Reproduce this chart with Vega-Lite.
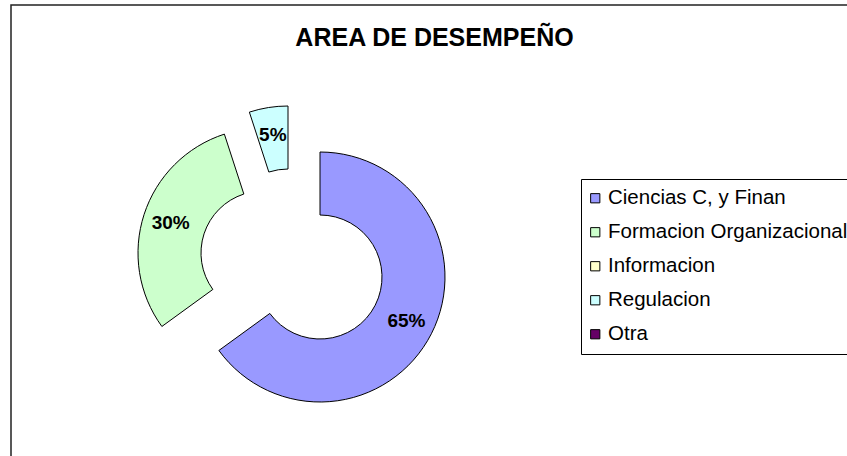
{
  "$schema": "https://vega.github.io/schema/vega-lite/v6.json",
  "width": 847,
  "height": 461,
  "autosize": {"type": "none"},
  "padding": {"left": 11, "top": 5, "right": 0, "bottom": 0},
  "background": "white",
  "view": {"stroke": "#222222", "strokeWidth": 1.5, "fill": "white"},
  "config": {
    "font": "Liberation Sans"
  },
  "title": {
    "text": "AREA DE DESEMPEÑO",
    "font": "Liberation Sans",
    "fontSize": 25,
    "fontWeight": "bold",
    "color": "black",
    "anchor": "middle",
    "frame": "group",
    "baseline": "alphabetic",
    "offset": 0,
    "dy": 66
  },
  "data": {
    "values": [
      {"cat": "Ciencias C, y Finan", "pct": 0.65, "orden": 1},
      {"cat": "Formacion Organizacional", "pct": 0.30, "orden": 2},
      {"cat": "Informacion", "pct": 0, "orden": 3},
      {"cat": "Regulacion", "pct": 0.05, "orden": 4},
      {"cat": "Otra", "pct": 0, "orden": 5}
    ]
  },
  "layer": [
    {
      "mark": {"type": "arc", "innerRadius": 62, "outerRadius": 125, "stroke": "black", "strokeWidth": 1, "xOffset": -114.5, "yOffset": 41.5},
      "encoding": {
        "theta": {"field": "pct", "type": "quantitative", "stack": true},
        "order": {"field": "orden", "type": "quantitative"},
        "color": {
          "field": "cat", "type": "nominal",
          "scale": {
            "domain": ["Ciencias C, y Finan", "Formacion Organizacional", "Informacion", "Regulacion", "Otra"],
            "range": ["#9999FF", "#CCFFCC", "#FFFFCC", "#CCFFFF", "#660066"]
          },
          "legend": {
            "title": null,
            "orient": "none",
            "legendX": 570,
            "legendY": 174,
            "padding": 9,
            "strokeColor": "black",
            "fillColor": "white",
            "cornerRadius": 0,
            "symbolType": "square",
            "symbolSize": 85,
            "symbolOffset": -5,
            "symbolStrokeColor": "black",
            "symbolStrokeWidth": 1,
            "symbolOpacity": 1,
            "labelFont": "Liberation Sans",
            "labelFontSize": 20.5,
            "labelColor": "black",
            "labelOffset": 2.5,
            "labelLimit": 400,
            "rowPadding": 13
          }
        },
        "opacity": {"condition": {"test": "datum.cat === 'Ciencias C, y Finan'", "value": 1}, "value": 0}
      }
    },
    {
      "mark": {"type": "arc", "innerRadius": 62, "outerRadius": 125, "stroke": "black", "strokeWidth": 1, "xOffset": -171.5, "yOffset": 17.5},
      "encoding": {
        "theta": {"field": "pct", "type": "quantitative", "stack": true},
        "order": {"field": "orden", "type": "quantitative"},
        "color": {"field": "cat", "type": "nominal"},
        "opacity": {"condition": {"test": "datum.cat === 'Formacion Organizacional'", "value": 1}, "value": 0}
      }
    },
    {
      "mark": {"type": "arc", "innerRadius": 62, "outerRadius": 125, "stroke": "black", "strokeWidth": 1, "xOffset": -146.5, "yOffset": -4.5},
      "encoding": {
        "theta": {"field": "pct", "type": "quantitative", "stack": true},
        "order": {"field": "orden", "type": "quantitative"},
        "color": {"field": "cat", "type": "nominal"},
        "opacity": {"condition": {"test": "datum.cat === 'Regulacion'", "value": 1}, "value": 0}
      }
    },
    {
      "mark": {"type": "text", "radius": 97, "fontSize": 19, "fontWeight": "bold", "font": "Liberation Sans", "fill": "black", "align": "center", "baseline": "middle", "xOffset": -114.5, "yOffset": 41.5},
      "encoding": {
        "theta": {"field": "pct", "type": "quantitative", "stack": true},
        "order": {"field": "orden", "type": "quantitative"},
        "text": {"field": "pct", "type": "quantitative", "format": ".0%"},
        "opacity": {"condition": {"test": "datum.cat === 'Ciencias C, y Finan'", "value": 1}, "value": 0}
      }
    },
    {
      "mark": {"type": "text", "radius": 97, "fontSize": 19, "fontWeight": "bold", "font": "Liberation Sans", "fill": "black", "align": "center", "baseline": "middle", "xOffset": -171.5, "yOffset": 17.5},
      "encoding": {
        "theta": {"field": "pct", "type": "quantitative", "stack": true},
        "order": {"field": "orden", "type": "quantitative"},
        "text": {"field": "pct", "type": "quantitative", "format": ".0%"},
        "opacity": {"condition": {"test": "datum.cat === 'Formacion Organizacional'", "value": 1}, "value": 0}
      }
    },
    {
      "mark": {"type": "text", "radius": 97, "fontSize": 19, "fontWeight": "bold", "font": "Liberation Sans", "fill": "black", "align": "center", "baseline": "middle", "xOffset": -146.5, "yOffset": -4.5},
      "encoding": {
        "theta": {"field": "pct", "type": "quantitative", "stack": true},
        "order": {"field": "orden", "type": "quantitative"},
        "text": {"field": "pct", "type": "quantitative", "format": ".0%"},
        "opacity": {"condition": {"test": "datum.cat === 'Regulacion'", "value": 1}, "value": 0}
      }
    }
  ]
}
